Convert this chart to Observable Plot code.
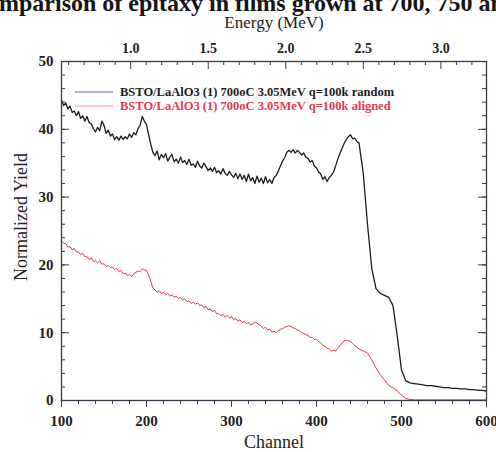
<!DOCTYPE html>
<html><head><meta charset="utf-8">
<script src="https://cdn.jsdelivr.net/npm/d3@7"></script>
<script src="https://cdn.jsdelivr.net/npm/@observablehq/plot@0.6"></script>
<style>
html,body{margin:0;padding:0;background:#fff}
body{width:496px;height:452px;overflow:hidden;position:relative}
#title{position:absolute;left:0;top:0;height:16px;width:496px;overflow:hidden;z-index:2}
#title span{position:absolute;white-space:nowrap;font:bold 24px "Liberation Serif",serif;line-height:24px;top:-9px;color:#151515}
#chart svg{display:block}
</style></head><body>
<div id="chart"></div>
<div id="title"><span id="t">Comparison of epitaxy in films grown at 700, 750 and</span></div>
<script>
// ---- data ----
const seriesNames = [
  "BSTO/LaAlO3 (1) 700oC 3.05MeV q=100k random",
  "BSTO/LaAlO3 (1) 700oC 3.05MeV q=100k aligned"
];
// channels 100 … 447.5 every 2.5, then 450 … 600 every 5
const channelsFine = d3.range(100, 450, 2.5);
const channelsCoarse = d3.range(450, 601, 5);
const randomFine = [
  44.3,43.5,43.9,43.0,43.4,42.5,42.7,42.0,42.6,41.6,42.0,41.2,41.9,41.0,40.8,40.1,39.6,40.3,39.8,41.2,
  40.6,39.4,39.9,39.0,39.3,38.5,38.9,38.4,39.0,38.5,38.9,38.6,39.3,38.8,39.5,39.2,40.1,40.6,41.9,41.2,
  40.7,39.2,37.8,36.6,36.1,36.8,35.5,36.3,35.8,36.4,35.3,35.9,36.3,35.2,35.6,35.0,35.9,35.1,35.4,34.8,
  35.6,34.7,34.9,34.4,35.3,34.6,34.3,35.0,34.5,33.9,34.3,33.8,34.4,33.6,33.9,33.4,34.2,33.5,33.2,33.8,
  33.3,32.9,33.5,32.7,33.4,32.6,33.2,32.3,33.4,32.4,32.9,32.0,33.1,32.2,32.8,32.0,33.0,32.1,32.6,32.0,
  32.9,33.2,33.8,34.6,35.3,35.8,36.6,36.9,36.6,37.0,36.5,36.9,36.6,36.2,36.5,35.9,35.7,35.2,35.4,34.6,
  34.3,33.7,33.4,32.6,33.0,32.3,32.9,33.2,33.7,34.6,35.6,36.4,37.2,37.9,38.5,38.9,39.2,38.6,38.7,38.2
];
const randomCoarse = [
  38.0,33.5,26.0,19.5,16.5,15.8,15.5,15.2,14.0,9.5,4.5,2.9,2.6,2.5,2.4,2.3,2.2,2.2,2.1,2.0,
  1.9,1.9,1.8,1.8,1.7,1.7,1.6,1.6,1.5,1.5,1.4
];
const alignedFine = [
  23.6,23.2,23.1,22.6,22.7,22.2,22.4,21.9,21.9,21.5,21.7,21.2,21.2,20.8,21.0,20.5,20.6,20.3,20.6,20.1,
  20.2,19.8,19.9,19.6,19.7,19.3,19.5,19.0,19.2,18.7,18.8,18.4,18.6,18.3,18.7,18.9,19.1,19.0,19.4,19.3,
  19.2,18.5,17.6,16.6,16.3,16.0,16.2,15.8,16.0,15.6,15.8,15.4,15.6,15.2,15.4,15.0,15.2,14.8,15.0,14.6,
  14.7,14.3,14.5,14.2,14.4,14.0,14.1,13.7,13.9,13.4,13.5,13.1,13.3,12.8,12.8,12.5,12.7,12.3,12.5,12.2,
  12.4,11.9,12.1,11.7,11.9,11.5,11.7,11.3,11.5,11.1,11.3,11.6,11.4,11.2,11.0,10.6,10.8,10.4,10.5,10.1,
  10.2,10.0,10.3,10.5,10.6,10.8,10.9,11.0,10.9,10.7,10.6,10.4,10.3,10.0,9.9,9.7,9.6,9.3,9.3,9.0,
  9.0,8.7,8.5,8.1,8.0,7.7,7.6,7.3,7.4,7.3,7.7,8.1,8.5,8.8,8.9,8.8,8.7,8.4,8.1,7.9
];
const alignedCoarse = [
  7.6,7.3,7.0,6.0,4.8,3.8,3.0,2.2,1.9,1.4,0.8,0.3,0.15,0.1,0.1,0.1,0.1,0.1,0.1,0.1,
  0.1,0.1,0.1,0.1,0.1,0.1,0.1,0.1,0.1,0.1,0.1
];
const channelTicks = [100, 200, 300, 400, 500, 600];
const yieldTicks = [0, 10, 20, 30, 40, 50];
const energyTicks = [1.0, 1.5, 2.0, 2.5, 3.0];
const energyPerChannel = 0.00548;   // MeV per channel
const energyOffset = 0.006;         // MeV
const xTitle = "Channel", yTitle = "Normalized Yield", topTitle = "Energy (MeV)";

// ---- build ----
const channels = channelsFine.concat(channelsCoarse);
const randomYield = randomFine.concat(randomCoarse);
const alignedYield = alignedFine.concat(alignedCoarse);
const data = channels.map((c, i) => ({channel: c, random: randomYield[i], aligned: alignedYield[i]}));
const toChannel = e => (e - energyOffset) / energyPerChannel;
const energyMinor = d3.range(6, 33).map(d => d / 10).filter(e => !energyTicks.some(t => Math.abs(t - e) < 1e-9));

const W = 496, H = 452, mL = 61, mR = 10, mT = 61, mB = 52;
const fw = W - mL - mR, fh = H - mT - mB;
const axisCol = "#3a3a4a", blackCol = "#1c1c26", redCol = "#e8394c";
const serif = '"Liberation Serif", "Times New Roman", serif';

// title offset so that its beginning is clipped like the reference
const ctx = document.createElement("canvas").getContext("2d");
ctx.font = 'bold 24px "Liberation Serif"';
document.getElementById("t").style.left = (-ctx.measureText("Co").width - 1) + "px";

function legendMark(index, scales, values, dims) {
  const g = d3.create("svg:g").attr("text-anchor", "start");
  const cols = [blackCol, redCol];
  const lineCols = ["#6c6c9c", "#f29a9a"];
  seriesNames.forEach((name, i) => {
    const y = dims.marginTop + 31 + i * 14;
    g.append("line").attr("x1", 75).attr("x2", 113).attr("y1", y).attr("y2", y)
      .attr("stroke", lineCols[i]).attr("stroke-width", 1);
    g.append("text").attr("x", 120).attr("y", y + 4).attr("text-anchor", "start")
      .attr("fill", cols[i]).attr("font-family", serif).attr("font-weight", "bold")
      .attr("font-size", 12.5).text(name);
  });
  return g.node();
}

const chart = Plot.plot({
  width: W, height: H, marginLeft: mL, marginRight: mR, marginTop: mT, marginBottom: mB,
  style: {fontFamily: serif, background: "transparent", color: "#222"},
  x: {domain: [100, 600]},
  y: {domain: [0, 50]},
  marks: [
    Plot.line(data, {x: "channel", y: "aligned", stroke: redCol, strokeWidth: 1}),
    Plot.line(data, {x: "channel", y: "random", stroke: blackCol, strokeWidth: 1.3}),
    Plot.frame({stroke: axisCol, strokeWidth: 1.3}),
    // bottom ticks (outward)
    Plot.axisX({anchor: "bottom", ticks: d3.range(100, 601, 20), tickSize: 4, tickFormat: () => "", stroke: axisCol, label: null}),
    Plot.axisX({anchor: "bottom", ticks: channelTicks, tickSize: 7, tickFormat: () => "", stroke: axisCol, label: null}),
    Plot.axisX({anchor: "bottom", ticks: channelTicks, tickSize: 0, tickPadding: 15, fontSize: 15, fontWeight: "bold", label: null, fill: "#222"}),
    // left / right ticks (inward)
    Plot.ruleY(d3.range(0, 51, 2), {y: d => d, insetRight: fw - 4, stroke: axisCol}),
    Plot.ruleY(yieldTicks, {y: d => d, insetRight: fw - 8, stroke: axisCol}),
    Plot.ruleY(d3.range(0, 51, 2), {y: d => d, insetLeft: fw - 4, stroke: axisCol}),
    Plot.ruleY(yieldTicks, {y: d => d, insetLeft: fw - 8, stroke: axisCol}),
    Plot.axisY({anchor: "left", ticks: yieldTicks, tickSize: 0, tickPadding: 8, fontSize: 15, fontWeight: "bold", label: null, fill: "#222"}),
    // top energy axis (inward ticks)
    Plot.ruleX(energyMinor, {x: toChannel, insetBottom: fh - 4, stroke: axisCol}),
    Plot.ruleX(energyTicks, {x: toChannel, insetBottom: fh - 8, stroke: axisCol}),
    Plot.axisX({anchor: "top", ticks: energyTicks.map(toChannel), tickSize: 0, tickPadding: 9, fontSize: 14, fontWeight: "bold", label: null, fill: "#222",
      tickFormat: d => d3.format(".1f")(energyOffset + energyPerChannel * d)}),
    // axis titles
    Plot.text([topTitle], {frameAnchor: "top", lineAnchor: "middle", textAnchor: "middle", dy: -39, fontSize: 17, fill: "#222"}),
    Plot.text([xTitle], {frameAnchor: "bottom", lineAnchor: "middle", textAnchor: "middle", dy: 42, fontSize: 18, fill: "#222"}),
    Plot.text([yTitle], {frameAnchor: "left", lineAnchor: "middle", textAnchor: "middle", dx: -40, dy: -14, rotate: -90, fontSize: 18, fill: "#222"}),
    legendMark
  ]
});
document.getElementById("chart").append(chart);
</script>
</body></html>
